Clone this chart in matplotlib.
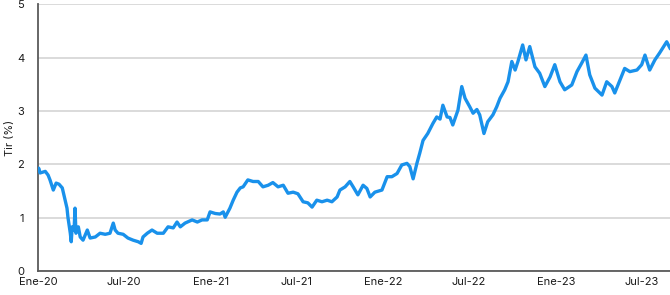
import matplotlib.pyplot as plt
import pandas as pd

# Tir (%) series
DATES = [
    "2020-01-01", "2020-01-02", "2020-01-05", "2020-01-16", "2020-01-22", "2020-01-26",
    "2020-02-02", "2020-02-08", "2020-02-14", "2020-02-21", "2020-02-27", "2020-03-02",
    "2020-03-04", "2020-03-09", "2020-03-11", "2020-03-13", "2020-03-17", "2020-03-19",
    "2020-03-21", "2020-03-26", "2020-03-30", "2020-04-05", "2020-04-14", "2020-04-20",
    "2020-05-01", "2020-05-11", "2020-05-22", "2020-06-01", "2020-06-08", "2020-06-12",
    "2020-06-18", "2020-06-29", "2020-07-09", "2020-07-20", "2020-07-31", "2020-08-06",
    "2020-08-10", "2020-08-19", "2020-08-29", "2020-09-09", "2020-09-22", "2020-10-02",
    "2020-10-13", "2020-10-21", "2020-10-28", "2020-11-07", "2020-11-22", "2020-12-03",
    "2020-12-13", "2020-12-24", "2020-12-30", "2021-01-10", "2021-01-20", "2021-01-27",
    "2021-01-31", "2021-02-10", "2021-02-17", "2021-02-25", "2021-03-04", "2021-03-10",
    "2021-03-20", "2021-03-31", "2021-04-11", "2021-04-21", "2021-05-02", "2021-05-12",
    "2021-05-23", "2021-06-03", "2021-06-13", "2021-06-24", "2021-07-04", "2021-07-15",
    "2021-07-25", "2021-08-03", "2021-08-13", "2021-08-24", "2021-09-04", "2021-09-14",
    "2021-09-25", "2021-10-01", "2021-10-12", "2021-10-22", "2021-10-29", "2021-11-08",
    "2021-11-19", "2021-11-27", "2021-12-04", "2021-12-14", "2021-12-29", "2022-01-09",
    "2022-01-19", "2022-01-30", "2022-02-09", "2022-02-20", "2022-02-26", "2022-03-05",
    "2022-03-13", "2022-03-19", "2022-03-26", "2022-04-05", "2022-04-16", "2022-04-24",
    "2022-05-01", "2022-05-07", "2022-05-16", "2022-05-22", "2022-05-28", "2022-06-08",
    "2022-06-16", "2022-06-23", "2022-07-03", "2022-07-10", "2022-07-18", "2022-07-24",
    "2022-08-02", "2022-08-10", "2022-08-21", "2022-08-29", "2022-09-05", "2022-09-15",
    "2022-09-22", "2022-09-30", "2022-10-07", "2022-10-13", "2022-10-23", "2022-10-30",
    "2022-11-07", "2022-11-18", "2022-11-28", "2022-12-09", "2022-12-20", "2022-12-30",
    "2023-01-10", "2023-01-20", "2023-02-04", "2023-02-15", "2023-02-25", "2023-03-06",
    "2023-03-14", "2023-03-25", "2023-04-09", "2023-04-19", "2023-04-30", "2023-05-06",
    "2023-05-17", "2023-05-27", "2023-06-07", "2023-06-22", "2023-07-02", "2023-07-09",
    "2023-07-19", "2023-07-30", "2023-08-09", "2023-08-24", "2023-08-31",
]
TIR = [
    1.89, 1.93, 1.84, 1.87, 1.80, 1.71,
    1.52, 1.65, 1.63, 1.56, 1.33, 1.18,
    1.01, 0.71, 0.55, 0.83, 0.77, 1.18,
    0.71, 0.83, 0.64, 0.58, 0.77, 0.62,
    0.64, 0.71, 0.69, 0.71, 0.90, 0.77,
    0.71, 0.69, 0.62, 0.58, 0.55, 0.52,
    0.64, 0.71, 0.77, 0.71, 0.71, 0.83,
    0.81, 0.92, 0.83, 0.90, 0.96, 0.92,
    0.96, 0.96, 1.11, 1.08, 1.07, 1.11,
    1.01, 1.18, 1.33, 1.48, 1.56, 1.58,
    1.71, 1.68, 1.68, 1.58, 1.61, 1.66,
    1.58, 1.61, 1.46, 1.48, 1.45, 1.30,
    1.28, 1.20, 1.33, 1.30, 1.33, 1.30,
    1.39, 1.52, 1.58, 1.68, 1.58, 1.43,
    1.61, 1.55, 1.39, 1.48, 1.52, 1.77,
    1.77, 1.83, 1.99, 2.02, 1.96, 1.73,
    2.02, 2.21, 2.45, 2.58, 2.77, 2.89,
    2.85, 3.11, 2.89, 2.88, 2.74, 3.02,
    3.46, 3.24, 3.08, 2.96, 3.03, 2.93,
    2.58, 2.80, 2.93, 3.08, 3.24, 3.40,
    3.55, 3.93, 3.77, 3.93, 4.24, 3.96,
    4.21, 3.83, 3.71, 3.46, 3.64, 3.87,
    3.55, 3.40, 3.49, 3.74, 3.90, 4.05,
    3.68, 3.43, 3.30, 3.55, 3.46, 3.34,
    3.58, 3.80, 3.74, 3.77, 3.87, 4.05,
    3.77, 3.96, 4.09, 4.30, 4.18,
]

TICK_DATES = ["2020-01-01", "2020-07-01", "2021-01-01", "2021-07-01",
              "2022-01-01", "2022-07-01", "2023-01-01", "2023-07-01"]
TICK_LABELS = ["Ene-20", "Jul-20", "Ene-21", "Jul-21",
               "Ene-22", "Jul-22", "Ene-23", "Jul-23"]
Y_TICKS = [0, 1, 2, 3, 4, 5]

LINE_COLOR = "#1991eb"
TEXT_COLOR = "#1a1a1a"

plt.rcParams["font.family"] = ["Inter", "DejaVu Sans"]

dates = pd.to_datetime(DATES)

fig = plt.figure(figsize=(6.7, 2.95), dpi=100)
ax = fig.add_axes([0.057, 0.081, 0.943, 0.904])

ax.plot(dates, TIR, color=LINE_COLOR, linewidth=2.4, solid_joinstyle="round", zorder=3)

ax.set_xlim(pd.Timestamp(DATES[0]), pd.Timestamp(DATES[-1]))
ax.set_ylim(0, 5)
ax.set_yticks(Y_TICKS)
ax.set_xticks(pd.to_datetime(TICK_DATES))
ax.set_xticklabels(TICK_LABELS)

ax.grid(True, axis="y", color="#d4d4d4", linewidth=1.2, zorder=0)
ax.tick_params(axis="both", length=0, labelsize=8, colors=TEXT_COLOR)
ax.tick_params(axis="y", pad=10)
ax.tick_params(axis="x", pad=4)
ax.set_ylabel("Tir (%)", fontsize=8, color=TEXT_COLOR)
ax.yaxis.set_label_coords(-0.037, 0.5)

for side in ("top", "right"):
    ax.spines[side].set_visible(False)
for side in ("left", "bottom"):
    ax.spines[side].set_color("#5a5a5a")
    ax.spines[side].set_linewidth(1.3)

fig.savefig("out.png", dpi=100)
